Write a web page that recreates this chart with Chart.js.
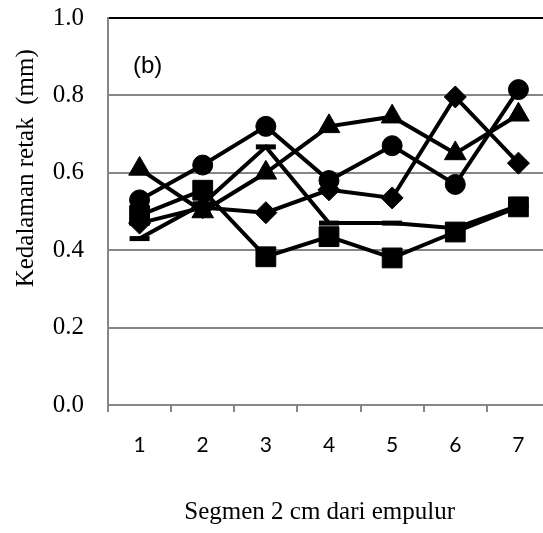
<!DOCTYPE html>
<html>
<head>
<meta charset="utf-8">
<script src="https://cdn.jsdelivr.net/npm/chart.js@4"></script>
<style>
  html, body { margin: 0; padding: 0; background: #fff; overflow: hidden; }
  #wrap { position: relative; width: 550px; height: 533px; }
</style>
</head>
<body>
<div id="wrap"><canvas id="c"></canvas></div>
<script>
// ---- data ----
const categories = ['1', '2', '3', '4', '5', '6', '7'];
const circleSeries   = [0.53, 0.62, 0.72, 0.58, 0.67, 0.57, 0.815];
const triangleSeries = [0.61, 0.50, 0.60, 0.72, 0.745, 0.65, 0.75];
const diamondSeries  = [0.47, 0.51, 0.497, 0.556, 0.535, 0.796, 0.625];
const squareSeries   = [0.49, 0.555, 0.383, 0.435, 0.38, 0.447, 0.512];
const dashSeries     = [0.43, 0.52, 0.667, 0.47, 0.47, 0.457, 0.515];
const yTicks = [0.0, 0.2, 0.4, 0.6, 0.8, 1.0];
const panelLabel = '(b)';
const xTitle = 'Segmen 2 cm dari empulur';
const yTitle = 'Kedalaman retak  (mm)';

function series(data, style, radius, bw) {
  return {
    data: data,
    borderColor: '#000',
    backgroundColor: '#000',
    borderWidth: 4,
    pointStyle: style,
    pointRadius: radius,
    pointBorderWidth: bw,
    pointBackgroundColor: '#000',
    pointBorderColor: '#000',
    tension: 0,
    fill: false,
    clip: false
  };
}

const panelPlugin = {
  id: 'panelLabel',
  afterDatasetsDraw(chart) {
    const {ctx, chartArea} = chart;
    ctx.save();
    ctx.font = '24px "Liberation Sans", Arial, sans-serif';
    ctx.fillStyle = '#000';
    ctx.textAlign = 'left';
    ctx.textBaseline = 'middle';
    ctx.fillText(panelLabel, chartArea.left + 25, chartArea.top + 48);
    ctx.restore();
  }
};

new Chart(document.getElementById('c'), {
  type: 'line',
  data: {
    labels: categories,
    datasets: [
      series(dashSeries, 'line', 10, 5),
      series(squareSeries, 'rect', 14, 1),
      series(diamondSeries, 'rectRot', 11, 1),
      series(triangleSeries, 'triangle', 12.5, 1),
      series(circleSeries, 'circle', 10, 1)
    ]
  },
  options: {
    responsive: true,
    maintainAspectRatio: false,
    animation: false,
    layout: { autoPadding: false, padding: { top: 18, right: 0, bottom: 0, left: 0 } },
    plugins: { legend: { display: false }, tooltip: { enabled: false } },
    scales: {
      x: {
        type: 'category',
        offset: true,
        grid: {
          offset: true,
          drawOnChartArea: false,
          drawTicks: true,
          tickLength: 7,
          color: '#868686',
          lineWidth: 2
        },
        border: { color: '#868686', width: 2 },
        ticks: {
          color: '#000',
          padding: 21,
          font: { family: 'Lato, "Open Sans", sans-serif', size: 21 }
        },
        title: {
          display: true,
          text: xTitle + '   ',
          color: '#000',
          font: { family: '"Liberation Serif", "Times New Roman", serif', size: 25 },
          padding: { top: 0, bottom: 6 }
        },
        afterFit(scale) { scale.height = 128; scale.paddingLeft = 0; scale.paddingRight = 0; }
      },
      y: {
        min: 0,
        max: 1,
        afterBuildTicks(scale) { scale.ticks = yTicks.map(v => ({ value: v })); },
        grid: {
          drawTicks: false,
          color: (c) => (c.tick && c.tick.value === 1 ? '#000' : '#868686'),
          lineWidth: 2
        },
        border: { color: '#868686', width: 2 },
        ticks: {
          color: '#000',
          padding: 24,
          font: { family: '"Liberation Serif", "Times New Roman", serif', size: 25 },
          callback: (v) => Number(v).toFixed(1)
        },
        title: {
          display: true,
          text: yTitle + '     ',
          align: 'end',
          color: '#000',
          font: { family: '"Liberation Serif", "Times New Roman", serif', size: 25 },
          padding: { top: 11, bottom: 0 }
        },
        afterFit(scale) { scale.width = 108; scale.paddingTop = 12; scale.paddingBottom = 12; }
      }
    }
  },
  plugins: [panelPlugin]
});
</script>
</body>
</html>
